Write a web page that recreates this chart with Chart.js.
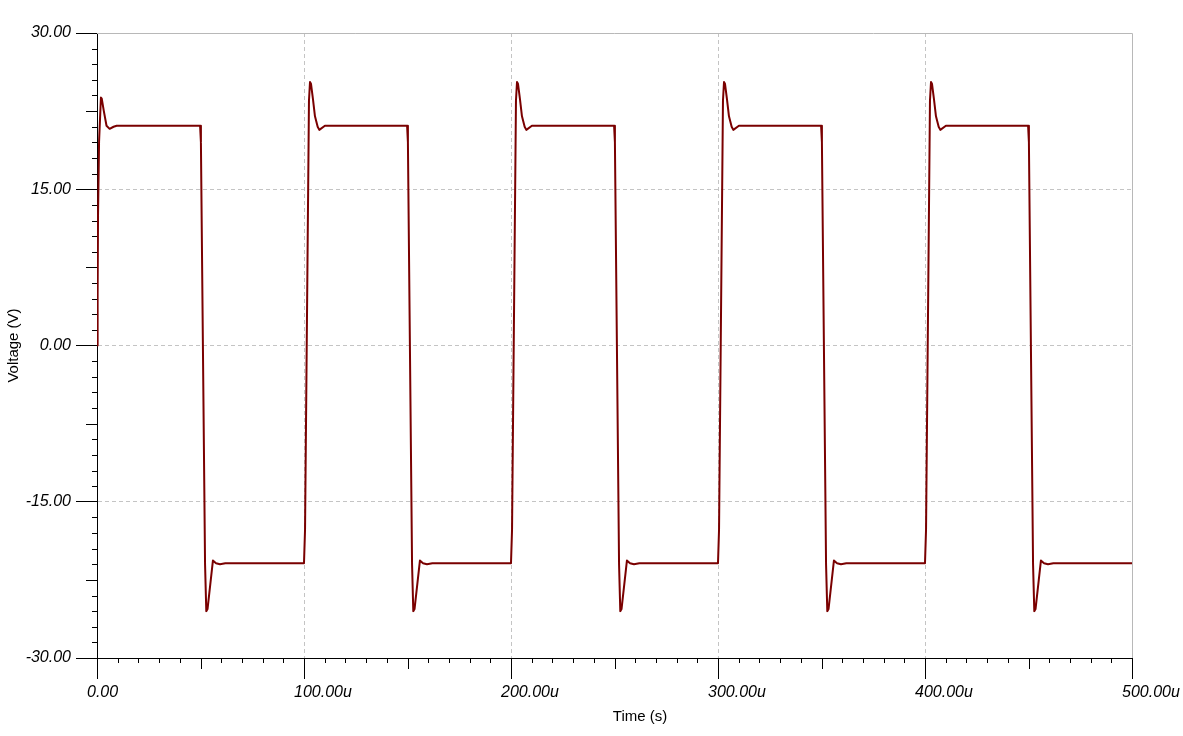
<!DOCTYPE html>
<html>
<head>
<meta charset="utf-8">
<title>Voltage vs Time</title>
<script src="https://cdn.jsdelivr.net/npm/chart.js@4.4.1/dist/chart.umd.min.js"></script>
<style>
  html, body { margin: 0; padding: 0; background: #fff; }
  canvas { display: block; }
</style>
</head>
<body>
<canvas id="waveChart" width="1183" height="736"></canvas>
<script>
// time in microseconds
const timeUs = [
  0, 0.3, 0.5, 1.0, 1.9, 2.3, 3.3, 4.6, 6.1, 8.0, 9.5,
  49.8, 50.2, 52.2, 52.8, 53.4, 56.0, 57.5, 59.4, 62.0,
  100.0, 100.5, 102.4, 102.9, 103.4, 104.3, 105.3, 106.6, 107.4, 110.1,
  149.8, 150.2, 152.2, 152.8, 153.4, 156.0, 157.5, 159.4, 162.0,
  200.0, 200.5, 202.4, 202.9, 203.4, 204.3, 205.3, 206.6, 207.4, 210.1,
  249.8, 250.2, 252.2, 252.8, 253.4, 256.0, 257.5, 259.4, 262.0,
  300.0, 300.5, 302.4, 302.9, 303.4, 304.3, 305.3, 306.6, 307.4, 310.1,
  349.8, 350.2, 352.2, 352.8, 353.4, 356.0, 357.5, 359.4, 362.0,
  400.0, 400.5, 402.4, 402.9, 403.4, 404.3, 405.3, 406.6, 407.4, 410.1,
  449.8, 450.2, 452.2, 452.8, 453.4, 456.0, 457.5, 459.4, 462.0,
  500.0
];
// voltage in volts
const voltage = [
  0, 4.8, 12.5, 19.6, 23.8, 23.7, 22.5, 21.1, 20.8, 21.0, 21.1,
  21.1, 19.5, -21.0, -25.5, -25.3, -20.65, -20.9, -21.0, -20.9,
  -20.9, -17.7, 23.5, 25.3, 25.1, 23.7, 22.0, 21.0, 20.7, 21.1,
  21.1, 19.5, -21.0, -25.5, -25.3, -20.65, -20.9, -21.0, -20.9,
  -20.9, -17.7, 23.5, 25.3, 25.1, 23.7, 22.0, 21.0, 20.7, 21.1,
  21.1, 19.5, -21.0, -25.5, -25.3, -20.65, -20.9, -21.0, -20.9,
  -20.9, -17.7, 23.5, 25.3, 25.1, 23.7, 22.0, 21.0, 20.7, 21.1,
  21.1, 19.5, -21.0, -25.5, -25.3, -20.65, -20.9, -21.0, -20.9,
  -20.9, -17.7, 23.5, 25.3, 25.1, 23.7, 22.0, 21.0, 20.7, 21.1,
  21.1, 19.5, -21.0, -25.5, -25.3, -20.65, -20.9, -21.0, -20.9,
  -20.9
];
// axis ticks
const xTicks = [0, 100, 200, 300, 400, 500];
const yTicks = [-30, -15, 0, 15, 30];
const xMinorStep = 10;
const yMinorStep = 1.5;

const points = timeUs.map((t, i) => ({ x: t, y: voltage[i] }));

const tickFont = { family: '"Liberation Sans", Arial, sans-serif', size: 16, style: 'italic' };
const titleFont = { family: '"Liberation Sans", Arial, sans-serif', size: 15 };

function gridColor(ctx, edges) {
  return edges.includes(ctx.tick.value) ? 'rgba(0,0,0,0)' : '#c4c4c4';
}

// minor ticks, plot frame and x title
const axisExtras = {
  id: 'axisExtras',
  beforeDatasetsDraw(chart) {
    const { ctx, chartArea: a } = chart;
    ctx.save();
    ctx.strokeStyle = '#b8b8b8';
    ctx.lineWidth = 1;
    ctx.beginPath();
    ctx.moveTo(Math.round(a.left), Math.round(a.top) + 0.5);
    ctx.lineTo(Math.round(a.right) + 0.5, Math.round(a.top) + 0.5);
    ctx.lineTo(Math.round(a.right) + 0.5, Math.round(a.bottom));
    ctx.stroke();
    ctx.restore();
  },
  afterDraw(chart) {
    const { ctx, chartArea: a, scales } = chart;
    const xs = scales.x, ys = scales.y;
    ctx.save();
    ctx.strokeStyle = '#000';
    ctx.lineWidth = 1;
    ctx.beginPath();
    for (let v = xs.min; v <= xs.max + 0.001; v += xMinorStep) {
      if (xTicks.includes(Math.round(v))) continue;
      const px = Math.round(xs.getPixelForValue(v)) + 0.5;
      const len = Math.round(v) % 100 === 50 ? 11 : 5;
      ctx.moveTo(px, a.bottom);
      ctx.lineTo(px, a.bottom + len);
    }
    for (let k = 0; k <= 40; k++) {
      const v = ys.min + k * yMinorStep;
      if (k % 10 === 0) continue;
      const py = Math.round(ys.getPixelForValue(v)) + 0.5;
      const len = k % 5 === 0 ? 11 : 5;
      ctx.moveTo(a.left, py);
      ctx.lineTo(a.left - len, py);
    }
    ctx.stroke();

    ctx.fillStyle = '#000';
    ctx.font = '15px "Liberation Sans", Arial, sans-serif';
    ctx.textAlign = 'center';
    ctx.textBaseline = 'middle';
    ctx.fillText('Time (s)', (a.left + chart.width) / 2, 717);
    ctx.restore();
  }
};

const ctx = document.getElementById('waveChart').getContext('2d');
new Chart(ctx, {
  type: 'line',
  data: {
    datasets: [{
      data: points,
      borderColor: '#7a0000',
      borderWidth: 2,
      borderJoinStyle: 'round',
      pointRadius: 0,
      tension: 0,
      fill: false
    }]
  },
  options: {
    responsive: false,
    animation: false,
    devicePixelRatio: 1,
    layout: { padding: { top: 33, right: 51, left: 0, bottom: 0 } },
    plugins: { legend: { display: false }, tooltip: { enabled: false } },
    scales: {
      x: {
        type: 'linear',
        min: 0,
        max: 500,
        afterBuildTicks(s) { s.ticks = xTicks.map(v => ({ value: v })); },
        ticks: {
          callback: v => v === 0 ? '0.00' : v.toFixed(2) + 'u',
          font: tickFont,
          color: '#000',
          padding: 4,
          maxRotation: 0,
          autoSkip: false,
          align: 'start',
          labelOffset: -10
        },
        grid: {
          color: c => gridColor(c, [0, 500]),
          tickLength: 21,
          tickColor: '#000',
          lineWidth: 1
        },
        border: { color: '#000', width: 1, dash: [4, 3] },
        afterFit(s) { s.height = 78; s.paddingLeft = 0; s.paddingRight = 0; }
      },
      y: {
        type: 'linear',
        min: -30,
        max: 30,
        afterBuildTicks(s) { s.ticks = yTicks.map(v => ({ value: v })); },
        ticks: {
          callback: v => v.toFixed(2),
          font: tickFont,
          color: '#000',
          padding: 5
        },
        grid: {
          color: c => gridColor(c, [30, -30]),
          tickLength: 21,
          tickColor: '#000',
          lineWidth: 1
        },
        border: { color: '#000', width: 1, dash: [4, 3] },
        title: {
          display: true,
          text: 'Voltage (V)',
          font: titleFont,
          color: '#000',
          padding: { top: 5, bottom: 0 }
        },
        afterFit(s) { s.width = 97; s.paddingTop = 0; s.paddingBottom = 0; }
      }
    }
  },
  plugins: [axisExtras]
});
</script>
</body>
</html>
